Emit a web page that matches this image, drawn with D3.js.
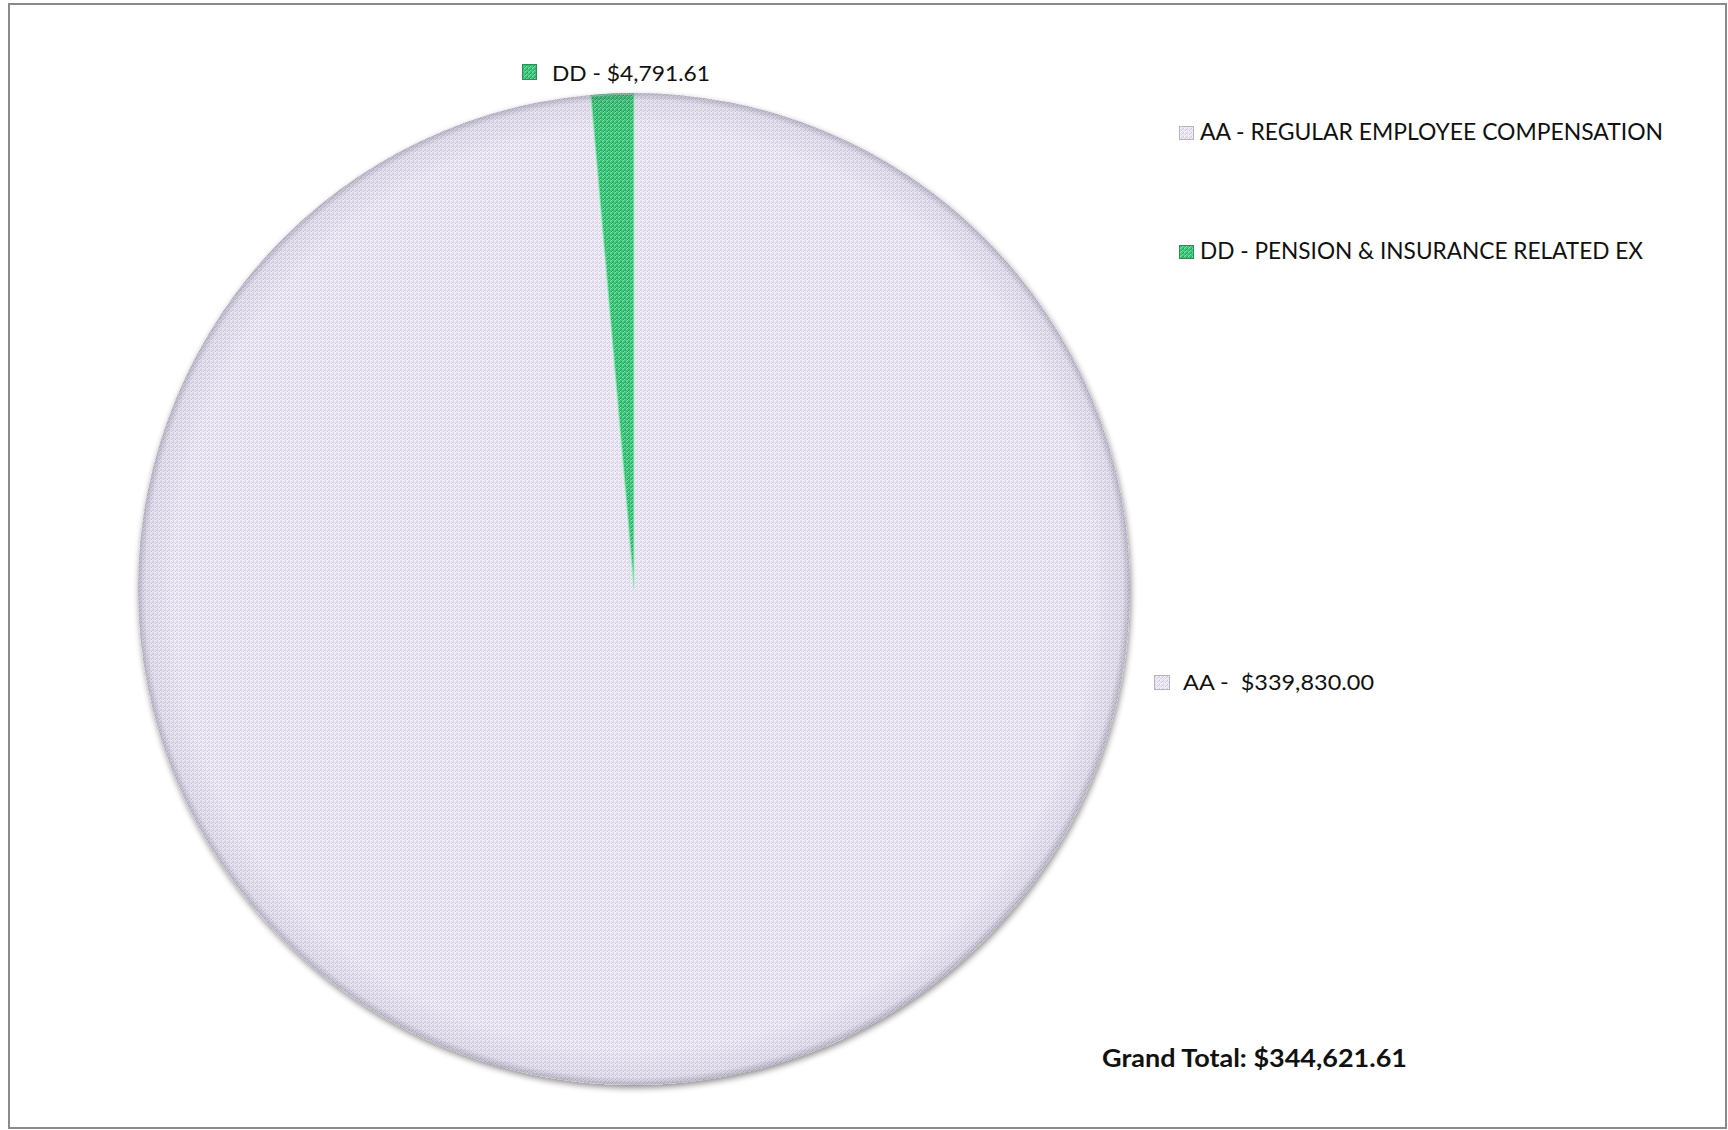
<!DOCTYPE html>
<html>
<head>
<meta charset="utf-8">
<script src="https://cdn.jsdelivr.net/npm/d3@7"></script>
<style>
  html, body { margin: 0; padding: 0; background: #fff; }
  svg { display: block; }
  text { white-space: pre; }
</style>
</head>
<body>
<svg id="chart" width="1728" height="1130"></svg>
<script>
// Expense categories and amounts
const codes = ["AA", "DD"];
const categories = ["AA - REGULAR EMPLOYEE COMPENSATION", "DD - PENSION & INSURANCE RELATED EX"];
const values = [339830.00, 4791.61];
const labelSeparators = [" -  ", " - "];
const totalPrefix = "Grand Total: ";

const W = 1728, H = 1130;
const cx = 634, cy = 589, radius = 496;
const fmt = d3.format("$,.2f");

const svg = d3.select("#chart");
const defs = svg.append("defs");

// Woven textures for the two slices
function texture(id, base, light, dark) {
  const p = defs.append("pattern")
    .attr("id", id).attr("patternUnits", "userSpaceOnUse")
    .attr("width", 4).attr("height", 4);
  p.append("rect").attr("width", 4).attr("height", 4).attr("fill", base);
  [[0, 0], [2, 2], [1, 3]].forEach(([x, y]) =>
    p.append("rect").attr("x", x).attr("y", y).attr("width", 1).attr("height", 1).attr("fill", light));
  [[3, 0], [1, 2], [2, 1]].forEach(([x, y]) =>
    p.append("rect").attr("x", x).attr("y", y).attr("width", 1).attr("height", 1).attr("fill", dark));
}
texture("tex-aa", "#e9e4f1", "#f9f7fd", "#d0c8e0");
texture("tex-dd", "#3fc67c", "#79e3a7", "#24a25c");
const fills = ["url(#tex-aa)", "url(#tex-dd)"];

// Soft drop shadow under the pie
const shadow = defs.append("filter").attr("id", "shadow")
  .attr("x", "-10%").attr("y", "-10%").attr("width", "120%").attr("height", "120%");
shadow.append("feGaussianBlur").attr("in", "SourceAlpha").attr("stdDeviation", 3).attr("result", "b");
shadow.append("feOffset").attr("in", "b").attr("dx", 1).attr("dy", 3).attr("result", "o");
shadow.append("feComponentTransfer").attr("in", "o").attr("result", "s")
  .append("feFuncA").attr("type", "linear").attr("slope", 0.45);
const merge = shadow.append("feMerge");
merge.append("feMergeNode").attr("in", "s");
merge.append("feMergeNode").attr("in", "SourceGraphic");

// Rim darkening for a slightly domed look
const rim = defs.append("radialGradient").attr("id", "rim")
  .attr("cx", cx).attr("cy", cy).attr("r", radius).attr("gradientUnits", "userSpaceOnUse");
rim.append("stop").attr("offset", "0.93").attr("stop-color", "#000").attr("stop-opacity", 0);
rim.append("stop").attr("offset", "0.985").attr("stop-color", "#3a3550").attr("stop-opacity", 0.06);
rim.append("stop").attr("offset", "1").attr("stop-color", "#3a3550").attr("stop-opacity", 0.28);

const blur = defs.append("filter").attr("id", "soft");
blur.append("feGaussianBlur").attr("stdDeviation", 2);

// Chart frame
svg.append("rect")
  .attr("x", 9).attr("y", 4).attr("width", 1717).attr("height", 1124)
  .attr("fill", "none").attr("stroke", "#8a8a8a").attr("stroke-width", 2);

// Pie
const pie = d3.pie().sort(null).value(d => d)(values);
const arc = d3.arc().innerRadius(0).outerRadius(radius);
const g = svg.append("g").attr("transform", `translate(${cx},${cy})`);

g.append("g").attr("filter", "url(#shadow)")
  .selectAll("path").data(pie).join("path")
  .attr("d", arc)
  .attr("fill", (d, i) => fills[i]);

// Bevel highlight on the small slice
g.append("path").datum(pie[1])
  .attr("d", d3.arc().innerRadius(0).outerRadius(radius - 1))
  .attr("fill", "none").attr("stroke", "#a5f0c6").attr("stroke-opacity", 0.7).attr("stroke-width", 1.5);

g.append("circle").attr("r", radius).attr("fill", "url(#rim)").attr("transform", `translate(${-cx},${-cy})`)
  .attr("cx", cx).attr("cy", cy);

// Faint crease where slices meet at the centre
const crease = d3.arc().innerRadius(0).outerRadius(radius * 0.12);
g.append("path").datum({ startAngle: pie[1].startAngle - 0.004, endAngle: pie[1].startAngle + 0.004 })
  .attr("d", crease).attr("fill", "#55506a").attr("opacity", 0.5).attr("filter", "url(#soft)");

// Text helpers
const font = "Lato, 'Open Sans', sans-serif";
function marker(x, y, w, h, i) {
  svg.append("rect").attr("x", x).attr("y", y).attr("width", w).attr("height", h)
    .attr("fill", fills[i]).attr("stroke", i === 0 ? "#b9b3c6" : "#2b8f56").attr("stroke-width", 1);
}
function text(x, y, str, len, size, weight) {
  svg.append("text").attr("x", x).attr("y", y).text(str)
    .attr("font-family", font).attr("font-size", size).attr("font-weight", weight || "normal")
    .attr("fill", "#111")
    .attr("textLength", len).attr("lengthAdjust", "spacingAndGlyphs");
}

// Data labels
const labelText = values.map((v, i) => codes[i] + labelSeparators[i] + fmt(v));
marker(522.5, 64.5, 14, 15, 1);
text(552, 81, labelText[1], 158, 21.5);
marker(1154.5, 675.5, 15, 14, 0);
text(1183, 690, labelText[0], 191, 21.5);

// Legend
const legendY = [140, 259];
categories.forEach((c, i) => {
  marker(1179.5, legendY[i] - 13.5, 14, 13, i);
  text(1200, legendY[i], c, i === 0 ? 463 : 443, 22.5);
});

// Grand total
text(1102, 1067, totalPrefix + fmt(d3.sum(values)), 305, 24.5, "bold");
</script>
</body>
</html>
